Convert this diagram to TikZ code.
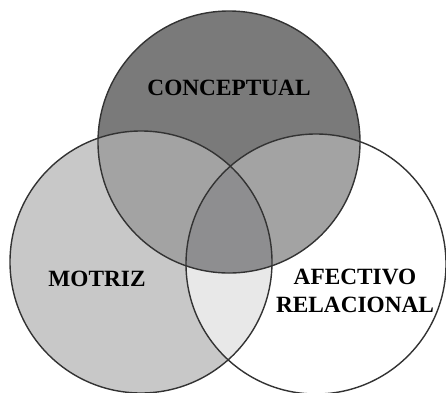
\documentclass[tikz,border=0pt]{standalone}
\usepackage{fontspec}
\setmainfont{Liberation Serif}
\definecolor{topc}{HTML}{7A7A7A}
\definecolor{leftc}{HTML}{C8C8C8}
\definecolor{tlc}{HTML}{A3A3A3}
\definecolor{triplec}{HTML}{8E8E90}
\definecolor{lrc}{HTML}{E8E8E8}
\definecolor{linec}{HTML}{333333}
\begin{document}
\begin{tikzpicture}[x=1pt,y=-1pt,
  ring/.style={draw=linec,line width=1.4pt},
  lbl/.style={font=\fontsize{23.3}{27.5}\selectfont\bfseries,text=black,align=center,inner sep=0pt}]
\useasboundingbox (0,0) rectangle (446,392);
\def\T{(229,142) circle (131)}
\def\L{(141,262) circle (131)}
\def\R{(316,264) circle (130)}
\fill[leftc] \L;
\fill[topc] \T;
\begin{scope}\clip \T; \fill[tlc] \L; \fill[tlc] \R; \end{scope}
\begin{scope}\clip \L; \fill[lrc] \R; \end{scope}
\begin{scope}\clip \T; \clip \L; \fill[triplec] \R; \end{scope}
\draw[ring] \T;
\draw[ring] \L;
\draw[ring] \R;
\node[lbl] (conc) at (229,88) {CONCEPTUAL};
\node[lbl] (mot) at (97,279) {MOTRIZ};
\node[lbl] (afe) at (355,291) {AFECTIVO\\RELACIONAL};
\end{tikzpicture}
\end{document}
